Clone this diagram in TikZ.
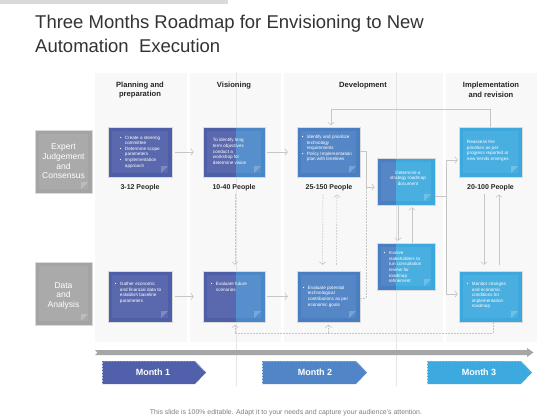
\documentclass[tikz,border=0pt]{standalone}
\usepackage{fontspec}
\setmainfont{Liberation Sans}
\usetikzlibrary{arrows.meta,shadows,calc}
\definecolor{cIndigo}{HTML}{4E5EA8}
\definecolor{cMid}{HTML}{4A87C8}
\definecolor{cDev}{HTML}{497EC3}
\definecolor{cSky}{HTML}{3CA8DE}
\definecolor{cLine}{HTML}{C6C6C6}
\definecolor{cPanel}{HTML}{F8F8F8}
\definecolor{cGrey}{HTML}{A4A4A4}
\definecolor{cTitle}{HTML}{333333}
\definecolor{cTop}{HTML}{D9D9D9}
\definecolor{cGuide}{HTML}{E6E6E6}
\definecolor{cTL}{HTML}{A6A6A6}
\definecolor{cFoot}{HTML}{7F7F7F}
\definecolor{cMonA}{HTML}{5060AA}
\definecolor{cMonB}{HTML}{5086C8}
\definecolor{cMonC}{HTML}{3CAADF}
\newcommand\boxdeco[2]{%
  \fill[#1] (path picture bounding box.north west) rectangle ([xshift=#2]path picture bounding box.south west);
  \fill[white,opacity=0.07] ([xshift=4pt,yshift=4pt]path picture bounding box.south west) rectangle ([xshift=-4pt,yshift=-4pt]path picture bounding box.north east);
  \fill[white,opacity=0.22] ([xshift=-11pt,yshift=4pt]path picture bounding box.south east) -- ++(7pt,7pt) -- ++(-7pt,0pt) -- cycle;
}
\newcommand\bu{\makebox[5pt][l]{•}}
\newcommand\ind{\hspace*{5pt}}
\tikzset{
  box/.style={draw=black!15, line width=0.5pt, minimum width=63pt, minimum height=50pt, inner sep=0pt,
    drop shadow={shadow xshift=0.7pt, shadow yshift=-0.9pt, opacity=0.35}},
  deco/.style 2 args={path picture={\boxdeco{#1}{#2}}},
  txt/.style={text=white, font=\fontsize{4.6}{5.6}\selectfont, align=left, inner sep=0pt, anchor=west},
  hdr/.style={font=\bfseries\fontsize{7.6}{9.5}\selectfont, text=black!85, align=center, inner sep=0pt},
  ppl/.style={font=\bfseries\fontsize{7}{8}\selectfont, text=black!85, inner sep=0pt},
  side/.style={draw=black!15, line width=0.5pt, fill=cGrey, minimum width=57pt, minimum height=63pt, inner sep=0pt,
    text=white, font=\fontsize{8.5}{9.6}\selectfont, align=center,
    drop shadow={shadow xshift=0.7pt, shadow yshift=-0.9pt, opacity=0.35}, deco={cGrey}{0pt}},
  line/.style={draw=cLine, line width=0.6pt},
  dline/.style={draw=cLine, line width=0.6pt, dash pattern=on 1.6pt off 1.4pt},
  con/.style={line, -{Straight Barb[length=2.6pt,width=6.5pt]}},
  dcon/.style={dline, -{Straight Barb[length=2.6pt,width=6.5pt]}},
  mon/.style={font=\bfseries\fontsize{9}{10}\selectfont, text=white, inner sep=0pt}
}
\begin{document}
\begin{tikzpicture}[x=1pt,y=-1pt]
\useasboundingbox (0,0) rectangle (560,420);
\fill[white] (0,0) rectangle (560,420);
\fill[cTop] (0,0) rectangle (228,4);
% title
\node[anchor=base west, font=\fontsize{18.5}{22}\selectfont, text=cTitle, inner sep=0pt] (t1) at (35,29) {Three Months Roadmap for Envisioning to New};
\node[anchor=base west, font=\fontsize{18.5}{22}\selectfont, text=cTitle, inner sep=0pt] (t2) at (35,53) {Automation\ \ Execution};
% column panels
\fill[cPanel] (95,73) rectangle (187,342);
\fill[cPanel] (190,73) rectangle (281,342);
\fill[cPanel] (284,73) rectangle (443,342);
\fill[cPanel] (446,73) rectangle (537,342);
% guide lines
\draw[cGuide, line width=0.5pt] (236,72) -- (236,386);
\draw[cGuide, line width=0.5pt] (396,72) -- (396,386);
% headers
\node[hdr] (h1) at (140,90) {Planning and\\preparation};
\node[hdr] (h2) at (234,85.5) {Visioning};
\node[hdr] (h3) at (363,85.5) {Development};
\node[hdr] (h4) at (491,90) {Implementation\\and revision};
% side boxes
\node[side] (exp) at (63.5,161.5) {Expert\\Judgement\\and\\Consensus};
\node[side] (dat) at (63.5,293.5) {\\[1pt]Data\\and\\Analysis};
% boxes top row
\node[box, fill=cIndigo, deco={cIndigo}{0pt}, minimum width=64pt] (plan) at (140,152) {};
\node[box, fill=cMid, deco={cIndigo}{33pt}, minimum width=62pt] (vis) at (234,152) {};
\node[box, fill=cDev, deco={cDev}{0pt}] (dev) at (328.5,152) {};
\node[box, fill=cSky, deco={cDev}{19pt}, minimum width=58pt, minimum height=47pt] (strat) at (406,181.5) {};
\node[box, fill=cSky, deco={cDev}{19pt}, minimum width=58pt, minimum height=47pt] (inv) at (406,266.5) {};
\node[box, fill=cSky, deco={cSky}{0pt}] (reas) at (490.5,152) {};
% bottom row
\node[box, fill=cIndigo, deco={cIndigo}{0pt}, minimum width=64pt, minimum height=51pt] (gath) at (140,296.5) {};
\node[box, fill=cMid, deco={cIndigo}{33pt}, minimum width=62pt, minimum height=51pt] (evf) at (234,296.5) {};
\node[box, fill=cDev, deco={cDev}{0pt}, minimum height=51pt] (evp) at (328.5,296.5) {};
\node[box, fill=cSky, deco={cSky}{0pt}, minimum height=51pt] (mon) at (490.5,296.5) {};
% box texts
\node[txt] (planT) at ($(plan.west)+(12,0)$) {\bu Create a steering\\\ind committee\\\bu Determine scope\\\ind parameters\\\bu Implementation\\\ind approach};
\node[txt] (visT) at ($(vis.west)+(10,-0.5)$) {To identify long\\term objectives\\conduct a\\workshop for\\determine vision};
\node[txt] (devT) at ($(dev.west)+(5,-3.5)$) {\bu Identify and prioritize\\\ind technology\\\ind requirements\\\bu Policy Implementation\\\ind plan with timelines};
\node[txt, anchor=center, align=center] (stratT) at ($(strat.center)+(2,-3.5)$) {Determine a\\strategy roadmap\\document};
\node[txt] (invT) at ($(inv.west)+(7,0.5)$) {\bu Involve\\\ind stakeholders to\\\ind run consultation\\\ind review for\\\ind roadmap\\\ind refinement};
\node[txt] (reasT) at ($(reas.west)+(8,-1)$) {Reassess the\\priorities as per\\progress reported or\\new trends emerges};
\node[txt] (gathT) at ($(gath.west)+(7,-3.5)$) {\bu Gather economic\\\ind and financial data to\\\ind establish baseline\\\ind parameters};
\node[txt] (evfT) at ($(evf.west)+(8,-9.5)$) {\bu Evaluate future\\\ind scenarios};
\node[txt] (evpT) at ($(evp.west)+(6,0)$) {\bu Evaluate potential\\\ind technological\\\ind contributions as per\\\ind economic goals};
\node[txt] (monT) at ($(mon.west)+(8,-1)$) {\bu Monitor changes\\\ind and economic\\\ind conditions for\\\ind implementation\\\ind roadmap};
% people labels
\node[ppl] (planP) at (140,188) {3-12 People};
\node[ppl] (visP) at (234,188) {10-40 People};
\node[ppl] (devP) at (329,188) {25-150 People};
\node[ppl] (reasP) at (490.5,188) {20-100 People};
% horizontal arrows
\draw[con, shorten <=3pt, shorten >=9pt] (plan.east) -- (vis.west);
\draw[con, shorten <=2pt, shorten >=9pt] (vis.east) -- (dev.west);
\draw[con, shorten <=3pt, shorten >=9pt] (gath.east) -- (evf.west);
\draw[con, shorten <=2pt, shorten >=9pt] (evf.east) -- (evp.west);
% dev -> strategy
\coordinate (j1) at (366,187);
\draw[line] ([yshift=1pt]dev.east) -| (j1);
\draw[dline] ([yshift=-1.5pt]evp.east) -| (j1);
\draw[con, shorten >=2pt] (j1) -- (j1 -| strat.west);
% strategy -> reassess / monitor
\coordinate (j2) at (446,196);
\draw[line] (strat.east |- j2) -- (j2);
\draw[con, shorten >=1pt] (j2) |- ([yshift=-8pt]reas.west);
\draw[con, shorten >=1pt] (j2) |- ([yshift=2.5pt]mon.west);
% reassess -> development (top loop)
\coordinate (j5) at (490.5,109);
\draw[line] (reas.north) -- (j5);
\draw[con, shorten >=1.5pt] (j5) -| ([xshift=2.5pt]dev.north);
% strategy <-> involve
\draw[con, shorten >=2pt] ([xshift=-8pt]strat.south) -- ([xshift=-8pt]inv.north);
\draw[con, shorten >=2pt] ([xshift=6pt]inv.north) -- ([xshift=6pt]strat.south);
% reassess <-> monitor
\draw[con, shorten <=3pt, shorten >=6pt] ([xshift=-6.5pt]reasP.south) -- ([xshift=-6.5pt]mon.north);
\draw[con, shorten <=6pt, shorten >=3pt] ([xshift=8.5pt]mon.north) -- ([xshift=8.5pt]reasP.south);
% development <-> evaluate potential (dashed)
\draw[dcon, shorten <=3pt, shorten >=6pt] ([xshift=-6pt]devP.south) -- ([xshift=-6pt]evp.north);
\draw[dcon, shorten <=6pt, shorten >=3pt] ([xshift=8pt]evp.north) -- ([xshift=8pt]devP.south);
% visioning -> evaluate future (dashed)
\draw[dcon, shorten <=3pt, shorten >=6pt] ([xshift=1pt]visP.south) -- ([xshift=1pt]evf.north);
% monitor -> bottom loop (dashed)
\coordinate (j4) at (235,333);
\draw[dline] ([xshift=2.5pt]mon.south) |- (j4);
\draw[dcon, shorten >=2.5pt] (j4) -- ([xshift=1pt]evf.south);
\draw[dcon, shorten >=2.5pt] (evp.south |- j4) -- (evp.south);
% timeline arrow
\fill[cTL] (95,350) -- (527,350) -- (527,348) -- (533.5,352.5) -- (527,357) -- (527,355) -- (95,355) -- (97.5,352.5) -- cycle;
% months
\fill[cMonA] (102,361) -- (195,361) -- (206,372.5) -- (195,384) -- (102,384) -- cycle;
\draw[white!65!cMonA, densely dotted, line width=0.5pt] (102.5,361.5) -- (195,361.5) -- (205.3,372.5);
\draw[white!65!cMonA, densely dotted, line width=0.5pt] (102.5,361.5) -- (102.5,384);
\node[mon] (m1) at (153,372.5) {Month 1};
\fill[cMonB] (262,361) -- (356,361) -- (367,372.5) -- (356,384) -- (262,384) -- cycle;
\draw[white!65!cMonB, densely dotted, line width=0.5pt] (262.5,361.5) -- (356,361.5) -- (366.3,372.5);
\draw[white!65!cMonB, densely dotted, line width=0.5pt] (262.5,361.5) -- (262.5,384);
\node[mon] (m2) at (315,372.5) {Month 2};
\fill[cMonC] (427,361) -- (521,361) -- (532,372.5) -- (521,384) -- (427,384) -- cycle;
\draw[white!65!cMonC, densely dotted, line width=0.5pt] (427.5,361.5) -- (521,361.5) -- (531.3,372.5);
\draw[white!65!cMonC, densely dotted, line width=0.5pt] (427.5,361.5) -- (427.5,384);
\node[mon] (m3) at (479,372.5) {Month 3};
% footer
\node[font=\fontsize{6.9}{8}\selectfont, text=cFoot, inner sep=0pt] (foot) at (286,413) {This slide is 100\% editable. Adapt it to your needs and capture your audience's attention.};
\end{tikzpicture}
\end{document}
